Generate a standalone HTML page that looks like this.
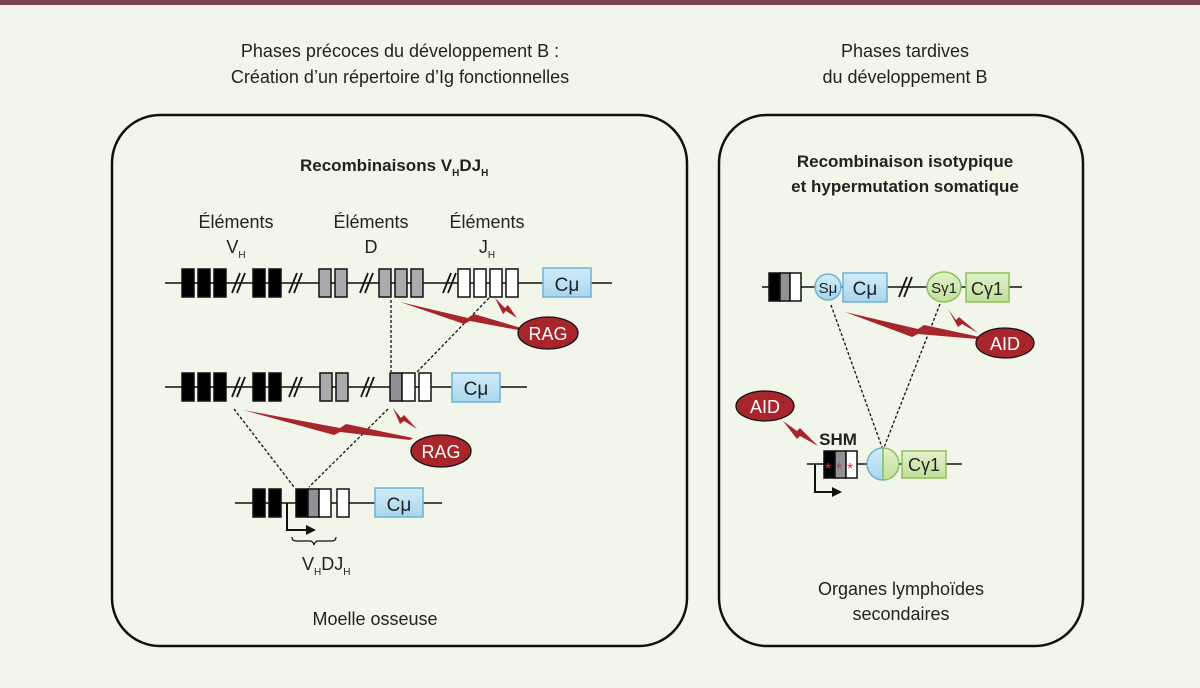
<!DOCTYPE html>
<html><head><meta charset="utf-8"><style>
html,body{margin:0;padding:0;background:#f2f6ea;}
svg{display:block;}
text{font-family:"Liberation Sans Narrow","Liberation Sans",sans-serif;fill:#222;}
.t{font-size:18px;}
.b{font-weight:bold;font-size:17px;}
</style></head><body>
<svg width="1200" height="688" viewBox="0 0 1200 688" xmlns="http://www.w3.org/2000/svg">
<defs>
<linearGradient id="blu" x1="0" y1="0" x2="0" y2="1"><stop offset="0" stop-color="#d2ecf8"/><stop offset="1" stop-color="#a7d6ee"/></linearGradient>
<linearGradient id="grn" x1="0" y1="0" x2="0" y2="1"><stop offset="0" stop-color="#e2f1c8"/><stop offset="1" stop-color="#c2e09a"/></linearGradient>
</defs>
<rect x="0" y="0" width="1200" height="688" fill="#f2f6ea"/>
<rect x="0" y="0" width="1200" height="5" fill="#7d4451"/>

<text class="t" x="400" y="57" text-anchor="middle">Phases précoces du développement B :</text>
<text class="t" x="400" y="83" text-anchor="middle">Création d’un répertoire d’Ig fonctionnelles</text>
<text class="t" x="905" y="57" text-anchor="middle">Phases tardives</text>
<text class="t" x="905" y="83" text-anchor="middle">du développement B</text>

<rect x="112" y="115" width="575" height="531" rx="48" fill="none" stroke="#111" stroke-width="2.5"/>
<rect x="719" y="115" width="364" height="531" rx="48" fill="none" stroke="#111" stroke-width="2.5"/>

<text class="b" x="300" y="171">Recombinaisons V<tspan font-size="10" dy="5">H</tspan><tspan dy="-5">DJ</tspan><tspan font-size="10" dy="5">H</tspan></text>
<text class="b" x="905" y="167" text-anchor="middle">Recombinaison isotypique</text>
<text class="b" x="905" y="192" text-anchor="middle">et hypermutation somatique</text>

<text class="t" x="236" y="228" text-anchor="middle">Éléments</text>
<text class="t" x="236" y="253" text-anchor="middle">V<tspan font-size="10" dy="5">H</tspan></text>
<text class="t" x="371" y="228" text-anchor="middle">Éléments</text>
<text class="t" x="371" y="253" text-anchor="middle">D</text>
<text class="t" x="487" y="228" text-anchor="middle">Éléments</text>
<text class="t" x="487" y="253" text-anchor="middle">J<tspan font-size="10" dy="5">H</tspan></text>

<g stroke="#111" stroke-width="1.5">
<line x1="165" y1="283" x2="612" y2="283"/>
<g fill="#000"><rect x="182" y="269" width="12" height="28"/><rect x="198" y="269" width="12" height="28"/><rect x="214" y="269" width="12" height="28"/><rect x="253" y="269" width="12" height="28"/><rect x="269" y="269" width="12" height="28"/></g>
<g fill="#a9abad"><rect x="319" y="269" width="12" height="28"/><rect x="335" y="269" width="12" height="28"/><rect x="379" y="269" width="12" height="28"/><rect x="395" y="269" width="12" height="28"/><rect x="411" y="269" width="12" height="28"/></g>
<g fill="#fff"><rect x="458" y="269" width="12" height="28"/><rect x="474" y="269" width="12" height="28"/><rect x="490" y="269" width="12" height="28"/><rect x="506" y="269" width="12" height="28"/></g>
<rect x="543" y="268" width="48" height="29" fill="url(#blu)" stroke="#6fb2d4"/>
<line x1="165" y1="387" x2="527" y2="387"/>
<g fill="#000"><rect x="182" y="373" width="12" height="28"/><rect x="198" y="373" width="12" height="28"/><rect x="214" y="373" width="12" height="28"/><rect x="253" y="373" width="12" height="28"/><rect x="269" y="373" width="12" height="28"/></g>
<g fill="#a9abad"><rect x="320" y="373" width="12" height="28"/><rect x="336" y="373" width="12" height="28"/><rect x="390" y="373" width="12" height="28" fill="#8f9194"/></g>
<g fill="#fff"><rect x="402" y="373" width="13" height="28"/><rect x="419" y="373" width="12" height="28"/></g>
<rect x="452" y="373" width="48" height="29" fill="url(#blu)" stroke="#6fb2d4"/>
<line x1="235" y1="503" x2="442" y2="503"/>
<g fill="#000"><rect x="253" y="489" width="12" height="28"/><rect x="269" y="489" width="12" height="28"/><rect x="296" y="489" width="12" height="28"/></g>
<rect x="308" y="489" width="11" height="28" fill="#8f9194"/>
<rect x="319" y="489" width="12" height="28" fill="#fff"/>
<rect x="337" y="489" width="12" height="28" fill="#fff"/>
<rect x="375" y="488" width="48" height="29" fill="url(#blu)" stroke="#6fb2d4"/>
</g>
<g stroke="#111" stroke-width="1.8" fill="none">
<path d="M232 293 L240 273 M237 293 L245 273"/>
<path d="M289 293 L297 273 M294 293 L302 273"/>
<path d="M360 293 L368 273 M365 293 L373 273"/>
<path d="M443 293 L451 273 M448 293 L456 273"/>
<path d="M232 397 L240 377 M237 397 L245 377"/>
<path d="M289 397 L297 377 M294 397 L302 377"/>
<path d="M361 397 L369 377 M366 397 L374 377"/>
<path d="M899 297 L907 277 M904 297 L912 277"/>
</g>
<text x="567" y="291" text-anchor="middle" font-size="19">Cμ</text>
<text x="476" y="395" text-anchor="middle" font-size="19">Cμ</text>
<text x="399" y="511" text-anchor="middle" font-size="19">Cμ</text>

<g stroke="#111" stroke-width="1.3" stroke-dasharray="3,2" fill="none">
<line x1="391" y1="300" x2="391" y2="372"/>
<line x1="489" y1="298" x2="417" y2="372"/>
<line x1="234" y1="409" x2="294" y2="487"/>
<line x1="388" y1="409" x2="309" y2="487"/>
<line x1="831" y1="305" x2="883" y2="450"/>
<line x1="940" y1="304" x2="883" y2="450"/>
</g>

<g stroke="#111" stroke-width="2" fill="none"><path d="M287 503 V530 H308"/></g>
<polygon points="306,525 316,530 306,535" fill="#111"/>
<path d="M292 537 q0 4 4 4 h14 q3 0 4 4 q1 -4 4 -4 h14 q4 0 4 -4" stroke="#111" stroke-width="1.2" fill="none"/>
<text class="t" x="302" y="570">V<tspan font-size="10" dy="5">H</tspan><tspan dy="-5">DJ</tspan><tspan font-size="10" dy="5">H</tspan></text>

<g fill="#a8262b">
<polygon points="400,302 468,318 474,314 521,328 518,330 470,321 464,324"/>
<polygon points="495,298 505,308 508,305 517,318 506,311 503,314"/>
<polygon points="243,410 340,428 346,424 413,438 410,440 340,432 334,435"/>
<polygon points="393,408 401,418 404,415 417,429 404,421 400,424"/>
<polygon points="845,312 918,329 924,325 980,337 977,339 918,334 912,337"/>
<polygon points="948,309 956,320 959,317 978,333 962,324 958,327"/>
<polygon points="783,421 797,431 800,428 818,446 800,436 797,439"/>
</g>
<g stroke="#111" stroke-width="1.3" fill="#a8262b">
<ellipse cx="548" cy="333" rx="30" ry="16"/>
<ellipse cx="441" cy="451" rx="30" ry="16"/>
<ellipse cx="1005" cy="343" rx="29" ry="15"/>
<ellipse cx="765" cy="406" rx="29" ry="15"/>
</g>
<g font-size="18" text-anchor="middle">
<text x="548" y="340" style="fill:#fff">RAG</text>
<text x="441" y="458" style="fill:#fff">RAG</text>
<text x="1005" y="350" style="fill:#fff">AID</text>
<text x="765" y="413" style="fill:#fff">AID</text>
</g>

<g stroke="#111" stroke-width="1.5">
<line x1="762" y1="287" x2="1022" y2="287"/>
<rect x="769" y="273" width="11" height="28" fill="#000"/>
<rect x="780" y="273" width="10" height="28" fill="#8f9194"/>
<rect x="790" y="273" width="11" height="28" fill="#fff"/>
</g>
<circle cx="828" cy="287" r="13" fill="url(#blu)" stroke="#6fb2d4" stroke-width="1.5"/>
<rect x="843" y="273" width="44" height="29" fill="url(#blu)" stroke="#6fb2d4" stroke-width="1.5"/>
<ellipse cx="944" cy="287" rx="17" ry="15" fill="url(#grn)" stroke="#8cbf5a" stroke-width="1.5"/>
<rect x="966" y="273" width="43" height="29" fill="url(#grn)" stroke="#8cbf5a" stroke-width="1.5"/>
<text x="828" y="293" text-anchor="middle" font-size="15">Sμ</text>
<text x="865" y="295" text-anchor="middle" font-size="19">Cμ</text>
<text x="944" y="293" text-anchor="middle" font-size="15">Sγ1</text>
<text x="987" y="295" text-anchor="middle" font-size="18">Cγ1</text>

<text class="b" x="838" y="445" text-anchor="middle" font-size="16">SHM</text>
<g stroke="#111" stroke-width="1.5">
<line x1="807" y1="464" x2="962" y2="464"/>
<rect x="824" y="451" width="11" height="27" fill="#000"/>
<rect x="835" y="451" width="11" height="27" fill="#8f9194"/>
<rect x="846" y="451" width="11" height="27" fill="#fff"/>
</g>
<g font-size="16"><text x="825" y="474" style="fill:#e03030">*</text><text x="836" y="474" style="fill:#e03030">*</text><text x="847" y="474" style="fill:#e03030">*</text></g>
<path d="M883 448 A16 16 0 0 0 883 480 Z" fill="url(#blu)" stroke="#6fb2d4" stroke-width="1.5"/>
<path d="M883 448 A16 16 0 0 1 883 480 Z" fill="url(#grn)" stroke="#8cbf5a" stroke-width="1.5"/>
<rect x="902" y="451" width="44" height="27" fill="url(#grn)" stroke="#8cbf5a" stroke-width="1.5"/>
<text x="924" y="471" text-anchor="middle" font-size="18">Cγ1</text>
<path d="M815 464 V492 H834" stroke="#111" stroke-width="2" fill="none"/>
<polygon points="832,487 842,492 832,497" fill="#111"/>

<text class="t" x="375" y="625" text-anchor="middle">Moelle osseuse</text>
<text class="t" x="901" y="595" text-anchor="middle">Organes lymphoïdes</text>
<text class="t" x="901" y="620" text-anchor="middle">secondaires</text>
</svg>
</body></html>
